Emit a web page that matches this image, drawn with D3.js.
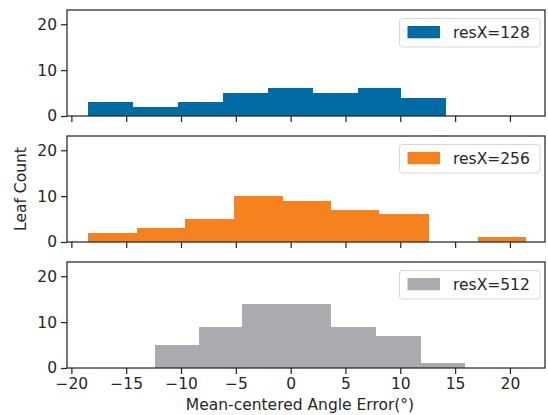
<!DOCTYPE html>
<html><head><meta charset="utf-8">
<script src="https://cdn.jsdelivr.net/npm/d3@7"></script>
<style>body{margin:0;background:#fff}svg{display:block;font-family:"DejaVu Sans",sans-serif}</style>
</head><body>
<svg id="c" width="548" height="415"></svg>
<script>
const seriesNames = ["resX=128", "resX=256", "resX=512"];
const colors = ["#006BA4", "#F5821F", "#ABABAF"];
const edges128 = [-18.5, -14.4, -10.3, -6.2, -2.1, 2.0, 6.1, 10.1, 14.2];
const counts128 = [3, 2, 3, 5, 6, 5, 6, 4];
const edges256 = [-18.5, -14.0, -9.6, -5.2, -0.7, 3.7, 8.1, 12.6, 17.1, 21.5];
const counts256 = [2, 3, 5, 10, 9, 7, 6, 0, 1];
const edges512 = [-12.4, -8.4, -4.4, -0.3, 3.7, 7.8, 11.9, 15.9];
const counts512 = [5, 9, 14, 14, 9, 7, 1];
const xTicks = [-20, -15, -10, -5, 0, 5, 10, 15, 20];
const yTicks = [0, 10, 20];

const panels = [
  {edges: edges128, counts: counts128},
  {edges: edges256, counts: counts256},
  {edges: edges512, counts: counts512}
];

const svg = d3.select("#c");
const L = 67, R = 545, H = 106, ink = "#262626";
const x = d3.scaleLinear().domain([-20.4, 23.2]).range([L, R]);
const fmt = d => d < 0 ? "\u2212" + Math.abs(d) : String(d);

panels.forEach((p, i) => {
  const top = 10 + i * 126;
  const y = d3.scaleLinear().domain([0, 23.1]).range([top + H, top]);
  const g = svg.append("g");
  const bins = p.counts.map((c, k) => ({x0: p.edges[k], x1: p.edges[k + 1], c}));
  g.selectAll("rect.bar").data(bins.filter(b => b.c > 0)).join("rect")
    .attr("x", b => x(b.x0)).attr("width", b => x(b.x1) - x(b.x0))
    .attr("y", b => y(b.c)).attr("height", b => y(0) - y(b.c))
    .attr("fill", colors[i]).attr("shape-rendering", "crispEdges");

  const xa = g.append("g").attr("transform", `translate(0,${top + H})`)
    .call(d3.axisBottom(x).tickValues(xTicks).tickSize(6).tickPadding(4)
      .tickFormat(i === 2 ? fmt : () => ""));
  const ya = g.append("g").attr("transform", `translate(${L},0)`)
    .call(d3.axisLeft(y).tickValues(yTicks).tickSize(6).tickPadding(4));
  [xa, ya].forEach(a => {
    a.select(".domain").remove();
    a.selectAll(".tick line").attr("stroke", ink).attr("stroke-width", 1.25);
    a.selectAll(".tick text").attr("fill", ink).style("font-size", "15.5px")
      .style("font-family", "DejaVu Sans");
  });
  g.append("rect").attr("x", L).attr("y", top).attr("width", R - L).attr("height", H)
    .attr("fill", "none").attr("stroke", ink).attr("stroke-width", 1.25);

  const lg = g.append("g");
  lg.append("rect").attr("x", 399.5).attr("y", top + 8.5).attr("width", 140.5).attr("height", 28.5)
    .attr("rx", 3).attr("fill", "#fff").attr("fill-opacity", 0.8).attr("stroke", "#d6d6d6");
  lg.append("rect").attr("x", 407.5).attr("y", top + 16).attr("width", 32.5).attr("height", 12.3)
    .attr("fill", colors[i]);
  lg.append("text").attr("x", 453).attr("y", top + 28.3).attr("fill", ink)
    .style("font-size", "15.5px").text(seriesNames[i]);
});

svg.append("text").attr("x", 300).attr("y", 409.5).attr("text-anchor", "middle")
  .attr("fill", ink).style("font-size", "15.5px").text("Mean-centered Angle Error(°)");
svg.append("text").attr("transform", "translate(26,189) rotate(-90)").attr("text-anchor", "middle")
  .attr("fill", ink).style("font-size", "15.5px").text("Leaf Count");
</script>
</body></html>
